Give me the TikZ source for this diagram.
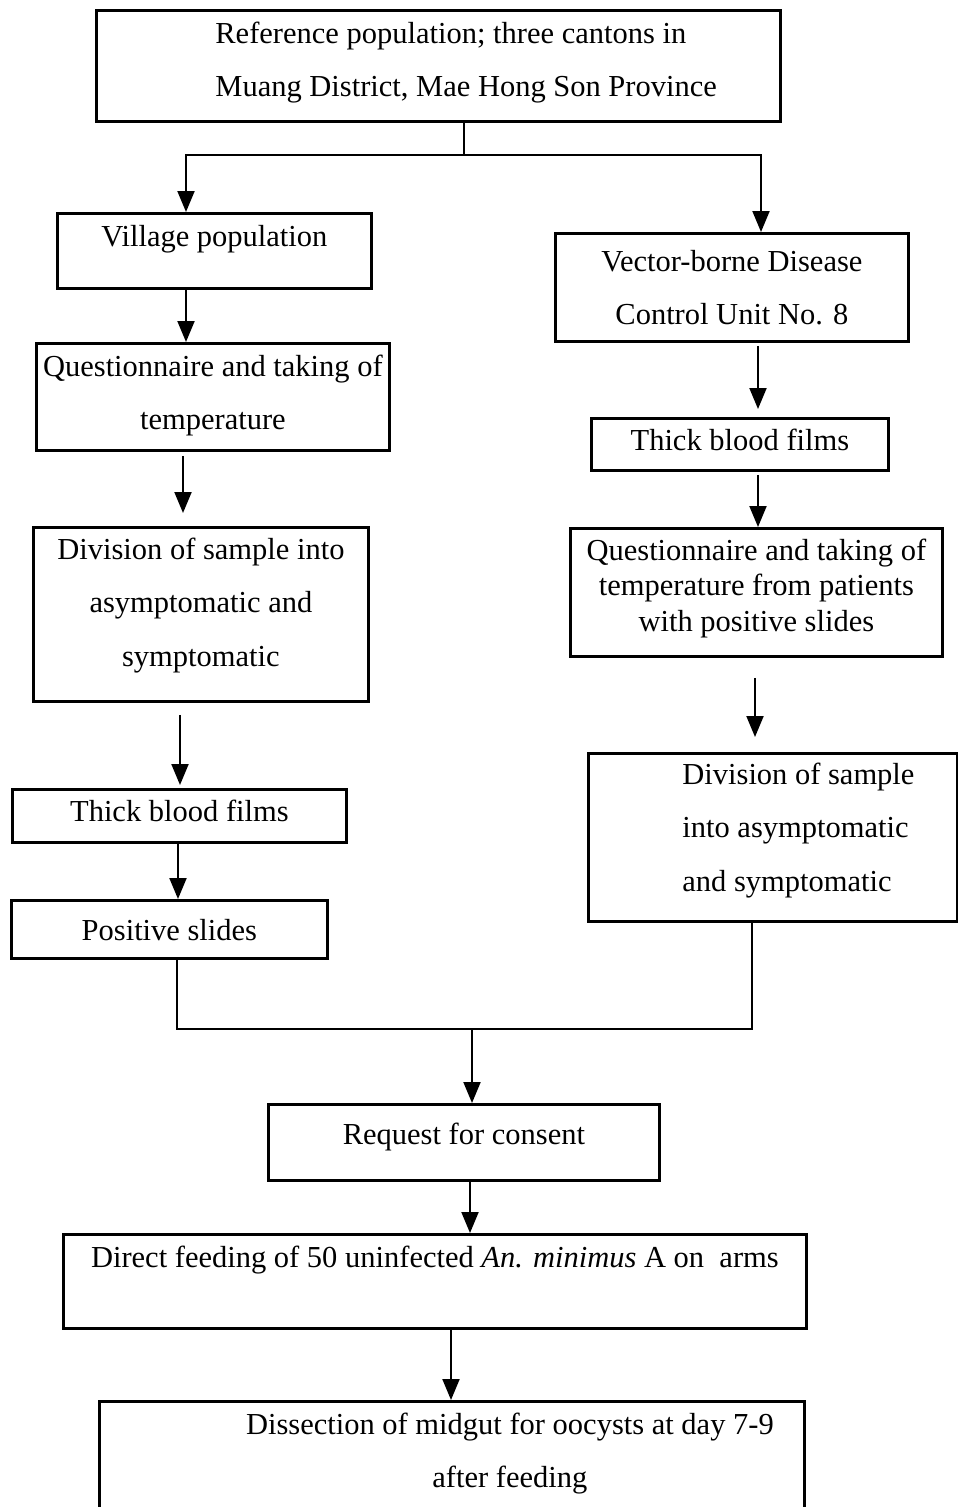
\documentclass[tikz,border=0pt]{standalone}
\usepackage{fontspec}
\setmainfont{Liberation Serif}
\usepackage{array}
\usetikzlibrary{arrows.meta}
\newcommand\ctext[2]{\fontsize{30.5}{#1}\selectfont\begin{tabular}[t]{@{}c@{}}#2\end{tabular}}
\newcommand\ptext[5]{\fontsize{30.5}{#1}\selectfont\begin{tabular}[t]{@{\hspace{#2}}>{#4\arraybackslash}p{#3}@{}}#5\end{tabular}}
\tikzset{
  box/.style={draw, line width=2.8pt, inner sep=0pt, anchor=north west},
  geom/.style n args={4}{minimum width=#1pt, minimum height=#2pt, text height=#3pt, text depth=#4pt},
  arr/.style={line width=2pt, -{Triangle[length=21pt,width=17pt]}},
  con/.style={line width=2pt}
}
\begin{document}
\begin{tikzpicture}[x=1pt,y=-1pt]
\useasboundingbox (0,0) rectangle (958,1507);
% boxes
\node[box, geom={684}{111}{33}{78}] (top) at (95,9)
  {\ptext{53pt}{119pt}{565pt}{\raggedright}{Reference population; three cantons in\\Muang District, Mae Hong Son Province}};
\node[box, geom={314}{75}{33}{42}] (village) at (56,212)
  {\ctext{53pt}{Village population}};
\node[box, geom={353}{108}{38}{70}] (vector) at (554,232)
  {\ctext{53pt}{Vector-borne Disease\\Control Unit No. 8}};
\node[box, geom={353}{107}{33}{74}] (questL) at (35,342)
  {\ctext{53pt}{Questionnaire and taking of\\temperature}};
\node[box, geom={335}{174}{32}{142}] (divL) at (32,526)
  {\ctext{53.5pt}{Division of sample into\\asymptomatic and\\symptomatic}};
\node[box, geom={297}{52}{32}{20}] (thickR) at (590,417)
  {\ctext{53pt}{Thick blood films}};
\node[box, geom={372}{128}{32}{96}] (questR) at (569,527)
  {\ctext{35.5pt}{Questionnaire and taking of\\temperature from patients\\with positive slides}};
\node[box, geom={369}{168}{31}{137}] (divR) at (587,752)
  {\ptext{53.5pt}{94pt}{275pt}{\raggedright}{Division of sample\\into asymptomatic\\and symptomatic}};
\node[box, geom={334}{53}{32}{21}] (thickL) at (11,788)
  {\ctext{53pt}{Thick blood films}};
\node[box, geom={316}{58}{40}{18}] (pos) at (10,899)
  {\ctext{53pt}{Positive slides}};
\node[box, geom={391}{76}{40}{36}] (request) at (267,1103)
  {\ctext{53pt}{Request for consent}};
\node[box, geom={743}{94}{33}{61}] (direct) at (62,1233)
  {\ctext{53pt}{Direct feeding of 50 uninfected \textit{An. minimus} A on~ arms}};
\node[box, geom={705}{140}{33}{107}] (diss) at (98,1400)
  {\ptext{53pt}{116pt}{589pt}{\centering}{Dissection of midgut for oocysts at day 7-9\\after feeding}};
% helper coordinates
\coordinate (split) at (464,155);
\coordinate (xa) at (186,0);
\coordinate (xb) at (761,0);
\coordinate (xc) at (183,0);
\coordinate (xd) at (180,0);
\coordinate (xe) at (178,0);
\coordinate (xf) at (758,0);
\coordinate (xg) at (755,0);
\coordinate (xh) at (177,0);
\coordinate (xi) at (752,0);
\coordinate (join) at (472,1029);
\coordinate (xj) at (470,0);
\coordinate (xk) at (451,0);
% connectors
\draw[con] (top.south -| split) -- (split);
\draw[arr] (split) -| (village.north -| xa);
\draw[arr] (split) -| (vector.north -| xb);
\draw[arr] (village.south -| xa) -- (questL.north -| xa);
\draw[arr, shorten <=4pt, shorten >=13pt] (questL.south -| xc) -- (divL.north -| xc);
\draw[arr, shorten <=12pt, shorten >=3pt] (divL.south -| xd) -- (thickL.north -| xd);
\draw[arr] (thickL.south -| xe) -- (pos.north -| xe);
\draw[arr, shorten <=3pt, shorten >=8pt] (vector.south -| xf) -- (thickR.north -| xf);
\draw[arr, shorten <=3pt] (thickR.south -| xf) -- (questR.north -| xf);
\draw[arr, shorten <=20pt, shorten >=15pt] (questR.south -| xg) -- (divR.north -| xg);
\draw[con] (pos.south -| xh) -- (xh |- join) -- (xi |- join) -- (divR.south -| xi);
\draw[arr] (join) -- (request.north -| join);
\draw[arr] (request.south -| xj) -- (direct.north -| xj);
\draw[arr] (direct.south -| xk) -- (diss.north -| xk);
\end{tikzpicture}
\end{document}
